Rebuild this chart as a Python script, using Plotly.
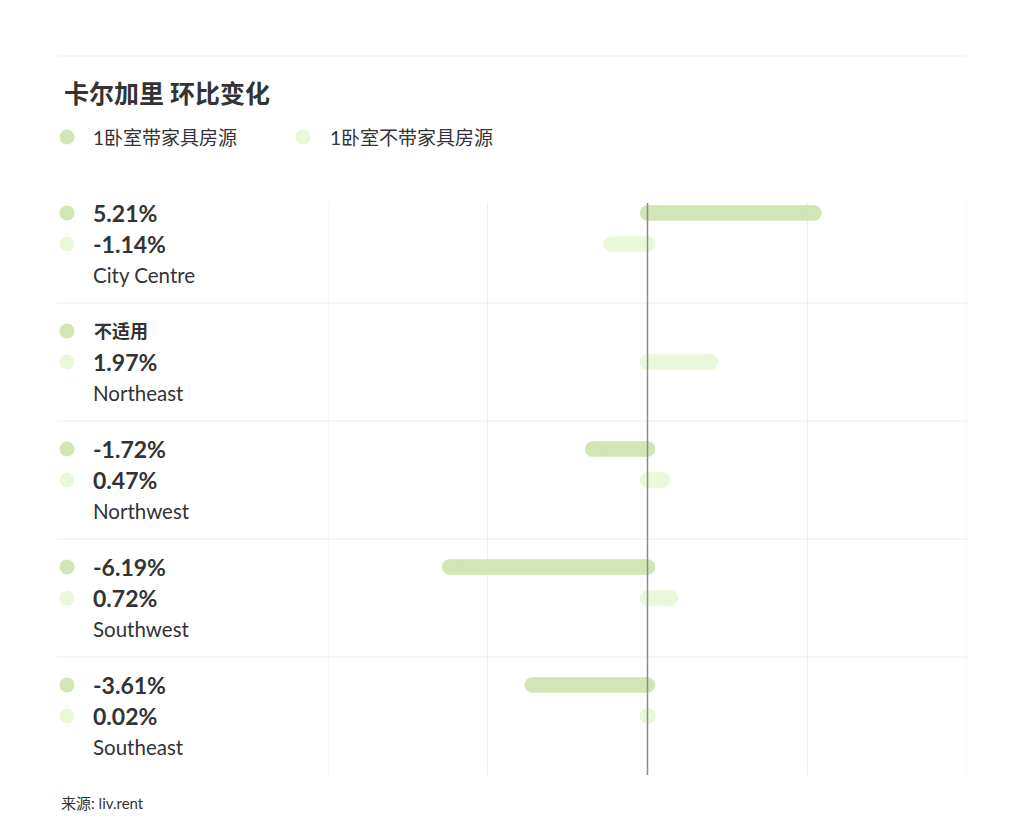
import plotly.graph_objects as go

# Calgary month-over-month change, 1 bedroom rentals
areas = ["City Centre", "Northeast", "Northwest", "Southwest", "Southeast"]
furnished = [5.21, None, -1.72, -6.19, -3.61]
unfurnished = [-1.14, 1.97, 0.47, 0.72, 0.02]

series_names = ["1卧室带家具房源", "1卧室不带家具房源"]
na_label = "不适用"
title = "卡尔加里 环比变化"
source = "来源: liv.rent"

dark_green = "#d1e6b4"
light_green = "#e8f8d8"
text_col = "#333333"
font_fam = "Lato, Noto Sans CJK SC, sans-serif"

# page geometry (pixels)
W, H = 1024, 836
L, R, T, B = 328, 57, 203, 61
plot_w = W - L - R
plot_h = H - T - B
row_h = 118
off_light = 31
off_name = 62


def px_x(p):
    return (p - L) / plot_w


def px_y(p):
    return (H - B - p) / plot_h


def pct(v):
    return "%.2f%%" % v


fig = go.Figure()

for vals, col, name in [(furnished, dark_green, series_names[0]),
                        (unfurnished, light_green, series_names[1])]:
    off = 0 if col == dark_green else off_light
    xs, ys = [], []
    for i, v in enumerate(vals):
        if v is None:
            continue
        xs += [0, v, None]
        ys += [i * row_h + off, i * row_h + off, None]
    fig.add_trace(go.Scatter(
        x=xs, y=ys, mode="lines+markers", name=name,
        line=dict(color=col, width=15.5),
        marker=dict(color=col, size=15.5),
        hoverinfo="skip", showlegend=False, cliponaxis=False,
    ))

shapes = []
annotations = []


def dot(xp, yval, col, yref="y"):
    shapes.append(dict(type="circle", xref="paper", yref=yref,
                       xsizemode="pixel", ysizemode="pixel",
                       xanchor=xp, yanchor=yval,
                       x0=-7.5, x1=7.5, y0=-7.5, y1=7.5,
                       fillcolor=col, line=dict(width=0)))


# edge grid lines (plotly skips them at the range ends)
for gx in [-10, 10]:
    shapes.append(dict(type="line", xref="x", yref="paper", x0=gx, x1=gx, y0=0, y1=1,
                       line=dict(color="#eeeeee", width=1), layer="below"))

# zero line above bars
shapes.append(dict(type="line", xref="x", yref="paper", x0=0, x1=0, y0=0, y1=1,
                   line=dict(color="#8a8a8a", width=1.5), layer="above"))

# row separators
for i in range(1, len(areas)):
    shapes.append(dict(type="line", xref="paper", yref="y",
                       x0=px_x(57), x1=1, y0=i * row_h - 28, y1=i * row_h - 28,
                       line=dict(color="#eeeeee", width=1), layer="below"))

# top rule
shapes.append(dict(type="line", xref="paper", yref="paper",
                   x0=px_x(57), x1=1, y0=px_y(56), y1=px_y(56),
                   line=dict(color="#eeeeee", width=1)))

# row labels
for i, a in enumerate(areas):
    y0 = i * row_h
    dot(px_x(67), y0, dark_green)
    dot(px_x(67), y0 + off_light, light_green)
    f = furnished[i]
    if f is None:
        annotations.append(dict(text="<b>" + na_label + "</b>", x=px_x(92), y=y0,
                                font=dict(size=18)))
    else:
        annotations.append(dict(text="<b>" + pct(f) + "</b>", x=px_x(91), y=y0,
                                font=dict(size=23)))
    annotations.append(dict(text="<b>" + pct(unfurnished[i]) + "</b>", x=px_x(91),
                            y=y0 + off_light, font=dict(size=23)))
    annotations.append(dict(text=a, x=px_x(91), y=y0 + off_name, font=dict(size=20.5)))

for an in annotations:
    an.update(xref="paper", yref="y", xanchor="left", yanchor="middle",
              showarrow=False)

# title, legend, source
annotations.append(dict(text="<b>" + title + "</b>", xref="paper", yref="paper",
                        x=px_x(62), y=px_y(93), xanchor="left", yanchor="middle",
                        showarrow=False, font=dict(size=25)))
dot(px_x(67), px_y(137), dark_green, yref="paper")
dot(px_x(303), px_y(137), light_green, yref="paper")
annotations.append(dict(text=series_names[0], xref="paper", yref="paper",
                        x=px_x(91), y=px_y(137), xanchor="left", yanchor="middle",
                        showarrow=False, font=dict(size=19)))
annotations.append(dict(text=series_names[1], xref="paper", yref="paper",
                        x=px_x(328), y=px_y(137), xanchor="left", yanchor="middle",
                        showarrow=False, font=dict(size=19)))
annotations.append(dict(text=source, xref="paper", yref="paper",
                        x=px_x(59), y=px_y(803), xanchor="left", yanchor="middle",
                        showarrow=False, font=dict(size=15)))

fig.update_layout(
    width=W, height=H,
    margin=dict(l=L, r=R, t=T, b=B),
    paper_bgcolor="white", plot_bgcolor="white",
    font=dict(family=font_fam, color=text_col),
    shapes=shapes, annotations=annotations,
    showlegend=False,
    xaxis=dict(range=[-10, 10], tickvals=[-10, -5, 0, 5, 10], showticklabels=False,
               showgrid=True, gridcolor="#eeeeee", gridwidth=1, zeroline=False,
               fixedrange=True),
    yaxis=dict(range=[(len(areas) - 1) * row_h + 90, -10], showticklabels=False,
               showgrid=False, zeroline=False, fixedrange=True),
)

# drop the default page margin so the figure sits at the window corner
fig.write_html("out.html", config={"displayModeBar": False},
               post_script="document.body.style.margin='0';")
